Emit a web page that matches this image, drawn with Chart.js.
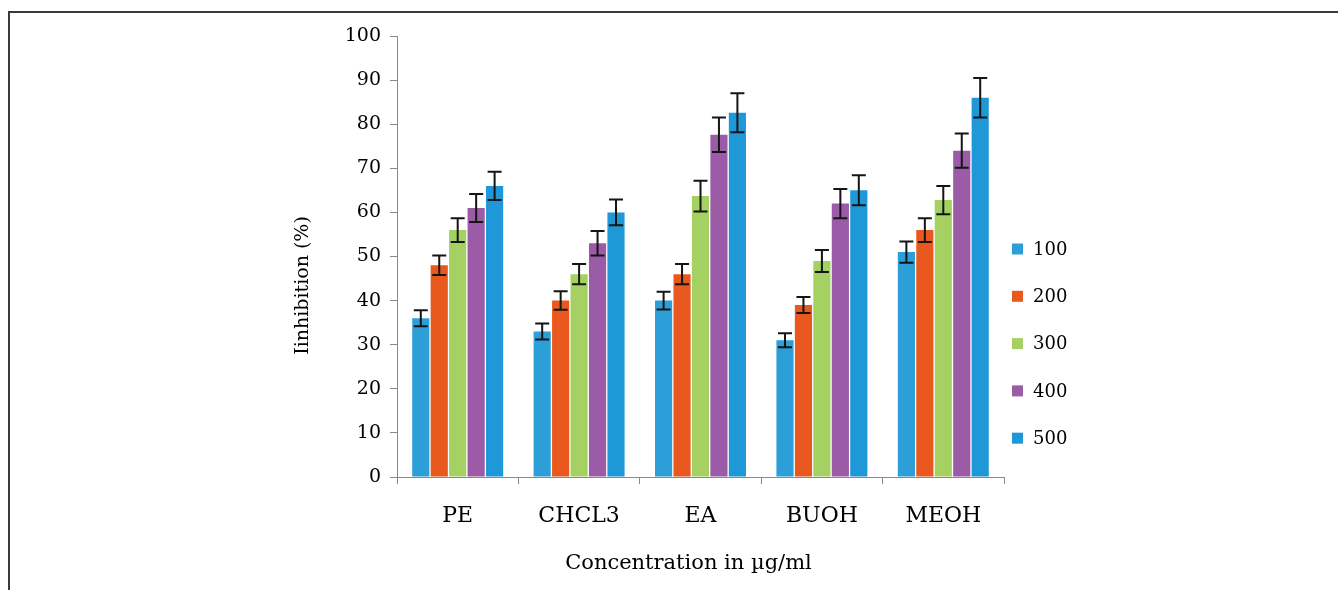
<!DOCTYPE html>
<html>
<head>
<meta charset="utf-8">
<script src="https://cdn.jsdelivr.net/npm/chart.js@4.4.0/dist/chart.umd.min.js"></script>
<style>
    body { margin: 0; background: #fff; }
    #wrap { position: relative; width: 1338px; height: 590px; overflow: hidden; }
    #frame { position: absolute; left: 8px; top: 11px; width: 1340px; height: 590px;
             border-top: 2px solid #3a3a3a; border-left: 2px solid #3a3a3a; }
    #inhChart { position: absolute; left: 0; top: 0; }
</style>
</head>
<body>
<div id="wrap">
    <div id="frame"></div>
    <canvas id="inhChart" width="1338" height="590"></canvas>
</div>
<script>
const categories = ['PE', 'CHCL3', 'EA', 'BUOH', 'MEOH'];
const seriesLabels = ['100', '200', '300', '400', '500'];
const yTicks = [0, 10, 20, 30, 40, 50, 60, 70, 80, 90, 100];

// mean inhibition (%) per concentration
const inh100 = [36, 33, 40, 31, 51];
const inh200 = [48, 40, 46, 39, 56];
const inh300 = [56, 46, 63.7, 49, 62.8];
const inh400 = [61, 53, 77.6, 62, 74];
const inh500 = [66, 60, 82.6, 65, 86];

// error bar half-heights
const err100 = [1.8, 1.8, 2.0, 1.6, 2.4];
const err200 = [2.2, 2.1, 2.3, 1.8, 2.7];
const err300 = [2.7, 2.3, 3.5, 2.5, 3.2];
const err400 = [3.2, 2.8, 3.9, 3.3, 3.9];
const err500 = [3.2, 2.9, 4.4, 3.4, 4.5];

const colors = ['#2c9ed8', '#e8581f', '#a5d163', '#9b5ba6', '#1f98d8'];
const FONT = '"DejaVu Serif", "Liberation Serif", serif';

const values = [inh100, inh200, inh300, inh400, inh500];
const errors = [err100, err200, err300, err400, err500];

const datasets = seriesLabels.map((lbl, i) => ({
    label: lbl,
    data: values[i],
    errors: errors[i],
    backgroundColor: colors[i],
    borderWidth: 0,
    categoryPercentage: 0.76,
    barPercentage: 0.93
}));

// draws the black whiskers on every bar
const errorBars = {
    id: 'errorBars',
    afterDatasetsDraw(chart) {
        const ctx = chart.ctx;
        const y = chart.scales.y;
        chart.data.datasets.forEach((ds, i) => {
            const meta = chart.getDatasetMeta(i);
            meta.data.forEach((bar, j) => {
                const v = ds.data[j], e = ds.errors[j];
                const top = y.getPixelForValue(v + e);
                const bot = y.getPixelForValue(v - e);
                ctx.save();
                ctx.strokeStyle = '#151515';
                ctx.lineWidth = 2;
                ctx.beginPath();
                ctx.moveTo(bar.x, top); ctx.lineTo(bar.x, bot);
                ctx.moveTo(bar.x - 7, top); ctx.lineTo(bar.x + 7, top);
                ctx.moveTo(bar.x - 7, bot); ctx.lineTo(bar.x + 7, bot);
                ctx.stroke();
                ctx.restore();
            });
        });
    }
};

// legend + axis titles placed like the original
const extras = {
    id: 'extras',
    afterDraw(chart) {
        const ctx = chart.ctx;
        const area = chart.chartArea;
        ctx.save();
        ctx.fillStyle = '#000';
        ctx.textBaseline = 'middle';
        ctx.font = '18px ' + FONT;
        chart.data.datasets.forEach((ds, i) => {
            const cy = area.top + 213 + i * 47.3;
            ctx.fillStyle = ds.backgroundColor;
            ctx.fillRect(area.right + 8, cy - 5.5, 11, 11);
            ctx.fillStyle = '#000';
            ctx.textAlign = 'left';
            ctx.fillText(ds.label, area.right + 29, cy + 1);
        });

        ctx.font = '21px ' + FONT;
        ctx.textAlign = 'center';
        ctx.fillText('Concentration in µg/ml', (area.left + area.right) / 2 - 12, area.bottom + 87);

        ctx.font = '19px ' + FONT;
        ctx.translate(area.left - 94, (area.top + area.bottom) / 2 + 29);
        ctx.rotate(-Math.PI / 2);
        ctx.fillText('Iinhibition (%)', 0, 0);
        ctx.restore();
    }
};

new Chart(document.getElementById('inhChart'), {
    type: 'bar',
    data: { labels: categories, datasets: datasets },
    options: {
        responsive: false,
        animation: false,
        devicePixelRatio: 1,
        layout: { padding: { left: 0, right: 334, top: 36, bottom: 0 } },
        plugins: {
            legend: { display: false },
            tooltip: { enabled: false }
        },
        scales: {
            x: {
                afterFit: (s) => { s.height = 113; },
                grid: { display: true, drawOnChartArea: false, offset: true, tickLength: 7, color: '#8a8a8a' },
                border: { color: '#8a8a8a', width: 1 },
                ticks: { color: '#000', padding: 19, font: { family: FONT, size: 22 } }
            },
            y: {
                min: 0,
                max: 100,
                afterFit: (s) => { s.width = 397; },
                afterBuildTicks: (s) => { s.ticks = yTicks.map(v => ({ value: v })); },
                grid: { display: true, drawOnChartArea: false, tickLength: 7, color: '#8a8a8a' },
                border: { color: '#8a8a8a', width: 1 },
                ticks: { color: '#000', padding: 9, font: { family: FONT, size: 19 } }
            }
        }
    },
    plugins: [errorBars, extras]
});
</script>
</body>
</html>
